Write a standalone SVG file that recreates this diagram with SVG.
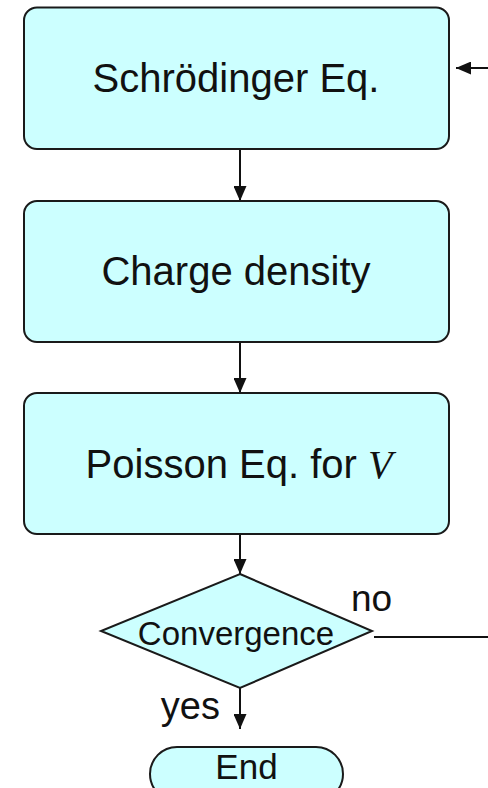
<svg xmlns="http://www.w3.org/2000/svg" width="488" height="788" viewBox="0 0 488 788">
<defs>
<style>
.box{fill:#CCFFFF;stroke:#1a1a1a;stroke-width:2}
.lbl{font-family:"Liberation Sans",Arial,sans-serif;fill:#111;text-anchor:middle}
.big{font-size:40px}
.conn{stroke:#111;stroke-width:2;fill:none}
</style>
<marker id="ah" markerUnits="userSpaceOnUse" markerWidth="14" markerHeight="13" refX="15" refY="6.5" orient="auto">
<path d="M0,0 L15,6.5 L0,13 z" fill="#111"/>
</marker>
</defs>
<rect width="488" height="788" fill="#ffffff"/>
<g id="connectors">
<line class="conn" x1="240" y1="149" x2="240" y2="201" marker-end="url(#ah)"/>
<line class="conn" x1="240" y1="342" x2="240" y2="393" marker-end="url(#ah)"/>
<line class="conn" x1="240" y1="534" x2="240" y2="574" marker-end="url(#ah)"/>
<line class="conn" x1="240" y1="688" x2="240" y2="729" marker-end="url(#ah)"/>
<line class="conn" x1="374" y1="637" x2="488" y2="637"/>
<line class="conn" x1="488" y1="68" x2="456" y2="68" marker-end="url(#ah)"/>
<text class="lbl" x="351" y="611" font-size="37" style="text-anchor:start">no</text>
<text class="lbl" x="220" y="719" font-size="38" style="text-anchor:end">yes</text>
</g>
<g id="schrodinger">
<rect class="box" x="24" y="7.5" width="425" height="141.5" rx="13"/>
<text class="lbl big" x="236" y="92">Schrödinger Eq.</text>
</g>
<g id="charge">
<rect class="box" x="24" y="201" width="425" height="141" rx="13"/>
<text class="lbl big" x="236" y="285">Charge density</text>
</g>
<g id="poisson">
<rect class="box" x="24" y="393" width="425" height="141" rx="13"/>
<text class="lbl big" x="239" y="478">Poisson Eq. for <tspan font-family="Liberation Serif,Times New Roman,serif" font-style="italic">V</tspan></text>
</g>
<g id="convergence">
<polygon class="box" points="240,574 372,631 240,688 101,631"/>
<text class="lbl" x="236" y="645" font-size="33">Convergence</text>
</g>
<g id="end">
<rect class="box" x="150" y="747" width="193" height="54" rx="27"/>
<text class="lbl" x="246.5" y="779" font-size="35">End</text>
</g>
</svg>
